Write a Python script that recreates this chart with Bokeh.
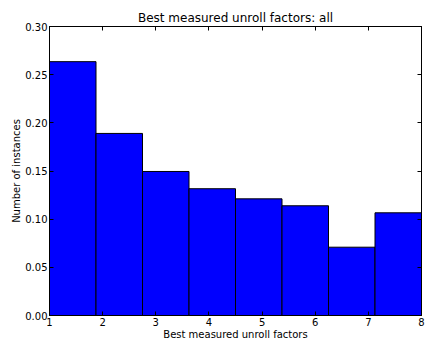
from bokeh.plotting import figure
from bokeh.models import (LinearAxis, FixedTicker, NumeralTickFormatter, Range1d,
                          ColumnDataSource, CustomLabelingPolicy)
from bokeh.embed import file_html
from bokeh.resources import INLINE

# Histogram of best measured unroll factors (normalised counts), 8 bins over [1, 8]
bin_lo = 1.0
bin_hi = 8.0
n_bins = 8
fractions = [0.2635, 0.189, 0.1495, 0.1316, 0.1211, 0.1139, 0.0709, 0.1066]
x_ticks = [1, 2, 3, 4, 5, 6, 7, 8]
y_ticks = [0.0, 0.05, 0.10, 0.15, 0.20, 0.25, 0.30]

width = (bin_hi - bin_lo) / n_bins
lefts = [bin_lo + i * width for i in range(n_bins)]
rights = [l + width for l in lefts]

src = ColumnDataSource(dict(left=lefts, right=rights, top=fractions, bottom=[0] * n_bins))

FONT = "DejaVu Sans"

p = figure(width=425, height=345, output_backend="svg", toolbar_location=None,
           x_range=Range1d(bin_lo, bin_hi), y_range=Range1d(0, 0.30),
           title="Best measured unroll factors: all",
           min_border_left=49, min_border_right=4, min_border_top=26, min_border_bottom=30)

p.quad(left="left", right="right", top="top", bottom="bottom", source=src,
       fill_color="#0000ff", line_color="black", line_width=1)

p.title.align = "center"
p.title.text_font = FONT
p.title.text_font_size = "12px"
p.title.text_font_style = "normal"
p.title.text_color = "black"
p.title.standoff = 3

p.xgrid.visible = False
p.ygrid.visible = False
p.outline_line_color = "black"
p.outline_line_width = 1
p.background_fill_color = "white"
p.border_fill_color = "white"

# hides tick labels on the mirrored axes
no_labels = CustomLabelingPolicy(code="return []")

def style_axis(ax, labels=True):
    ax.axis_line_color = "black"
    ax.major_tick_in = 4
    ax.major_tick_out = 0
    ax.minor_tick_in = 0
    ax.minor_tick_out = 0
    ax.major_tick_line_color = "black"
    ax.major_label_text_font = FONT
    ax.major_label_text_font_size = "10px"
    ax.major_label_text_color = "black"
    ax.axis_label_text_font = FONT
    ax.axis_label_text_font_size = "10px"
    ax.axis_label_text_font_style = "normal"
    ax.axis_label_text_color = "black"
    ax.major_label_standoff = 2
    ax.axis_label_standoff = 0
    if not labels:
        ax.major_label_policy = no_labels
        ax.major_label_text_font_size = "0px"
        ax.major_label_standoff = 0

xa = p.xaxis[0]
xa.ticker = FixedTicker(ticks=x_ticks)
xa.axis_label = "Best measured unroll factors"
style_axis(xa)

ya = p.yaxis[0]
ya.ticker = FixedTicker(ticks=y_ticks)
ya.formatter = NumeralTickFormatter(format="0.00")
ya.axis_label = "Number of instances"
style_axis(ya)

top_ax = LinearAxis(ticker=FixedTicker(ticks=x_ticks))
style_axis(top_ax, labels=False)
p.add_layout(top_ax, "above")

right_ax = LinearAxis(ticker=FixedTicker(ticks=y_ticks))
style_axis(right_ax, labels=False)
p.add_layout(right_ax, "right")

open("out.html", "w").write(file_html(p, INLINE))
